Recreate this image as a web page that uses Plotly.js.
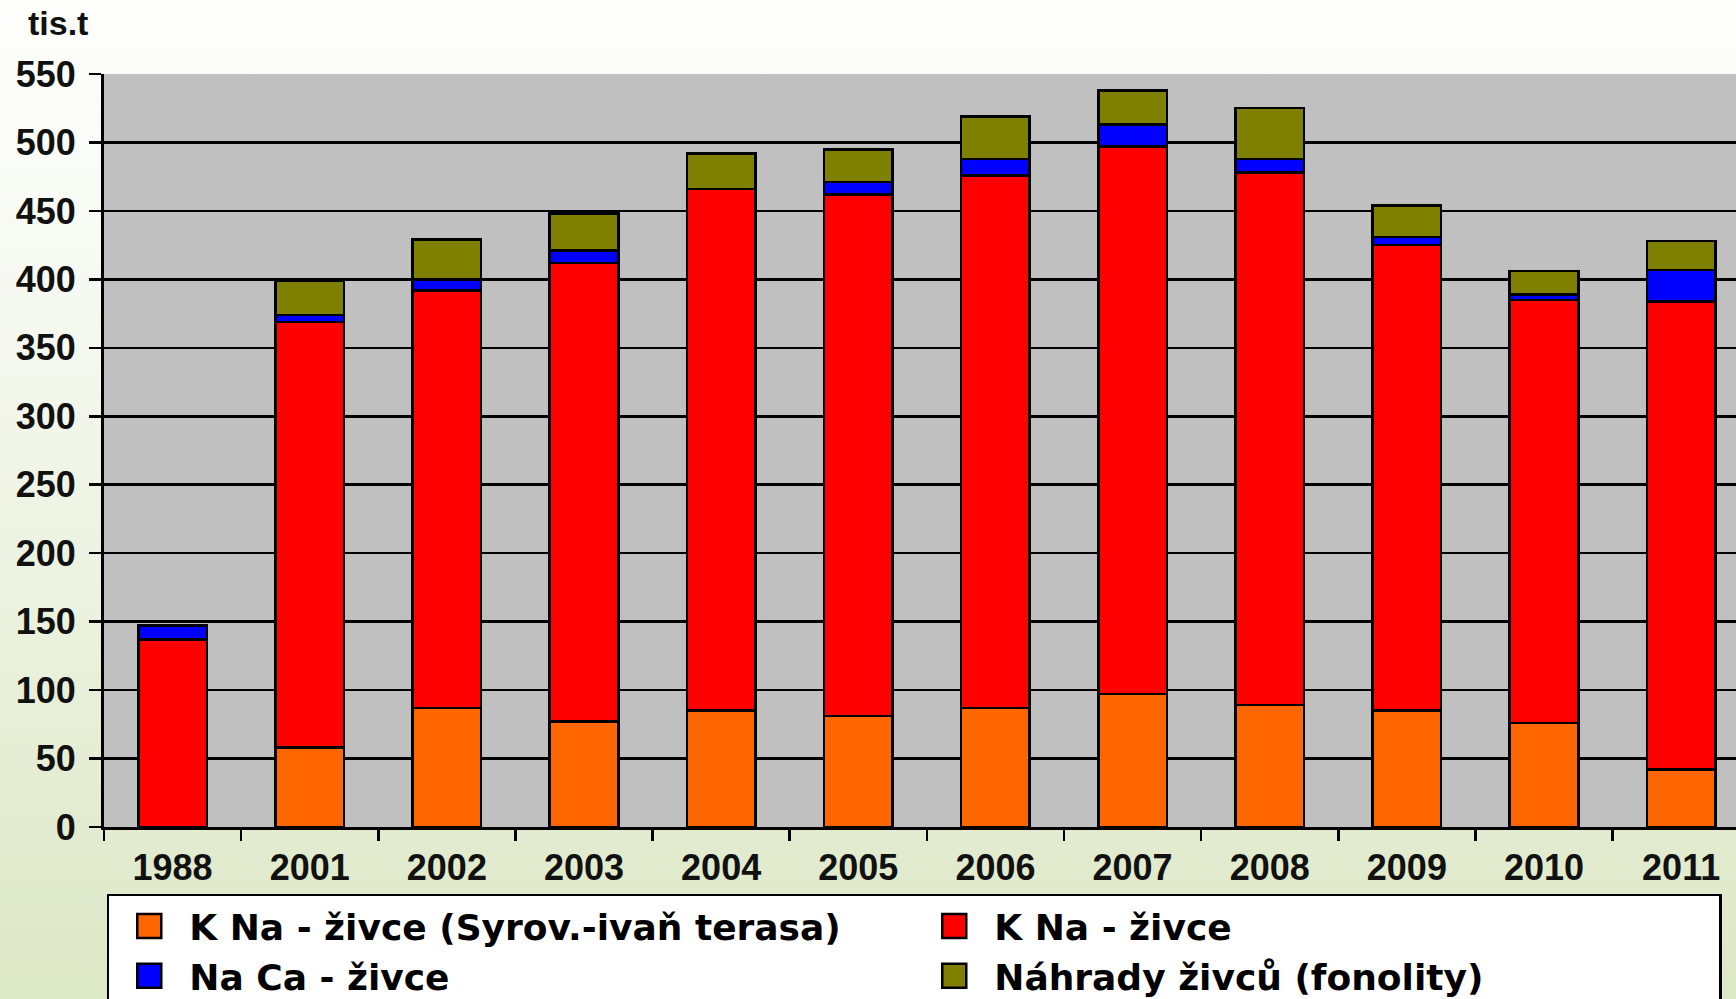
<!DOCTYPE html>
<html>
<head>
<meta charset="utf-8">
<script src="https://cdn.plot.ly/plotly-3.0.1.min.js"></script>
<style>
  html, body { margin: 0; padding: 0; }
  body {
    width: 1736px; height: 999px; overflow: hidden;
    background: linear-gradient(to bottom, #fefefc 0%, #f6f9f1 30%, #ebf2df 60%, #e2ebcf 85%, #dde8c6 100%);
  }
  #chart { width: 1736px; height: 999px; }
</style>
</head>
<body>
<div id="chart"></div>
<script>
// Categories (years)
const years = ['1988', '2001', '2002', '2003', '2004', '2005', '2006', '2007', '2008', '2009', '2010', '2011'];

// Series names
const nameKNaTerasa = 'K Na - živce (Syrov.-ivaň terasa)';
const nameKNa = 'K Na - živce';
const nameNaCa = 'Na Ca - živce';
const nameNahrady = 'Náhrady živců (fonolity)';

// Series values (tis. t)
const kNaTerasa = [0, 58, 87, 77, 85, 81, 87, 97, 89, 85, 76, 42];
const kNa       = [137, 311, 305, 335, 381, 381, 389, 400, 389, 340, 309, 342];
const naCa      = [10, 5, 8, 9, 0, 9, 12, 16, 10, 6, 4, 23];
const nahrady   = [0, 25, 29, 27, 26, 24, 31, 25, 37, 23, 17, 21];

// Y axis ticks
const yTicks = [0, 50, 100, 150, 200, 250, 300, 350, 400, 450, 500, 550];

const FONT = 'Liberation Sans, Arial, Helvetica, sans-serif';
const LEGEND_FONT = 'DejaVu Sans, Liberation Sans, Arial, sans-serif';
const outline = { color: '#000000', width: 2.5 };

function barTrace(name, values, color) {
  return {
    type: 'bar',
    name: name,
    x: years,
    y: values,
    marker: { color: color, line: outline },
    hoverinfo: 'skip'
  };
}

const data = [
  barTrace(nameKNaTerasa, kNaTerasa, '#ff6600'),
  barTrace(nameKNa, kNa, '#ff0000'),
  barTrace(nameNaCa, naCa, '#0000ff'),
  barTrace(nameNahrady, nahrady, '#808000')
];

const layout = {
  width: 1736,
  height: 999,
  margin: { l: 104, r: 0, t: 74, b: 172, pad: 0 },
  paper_bgcolor: 'rgba(0,0,0,0)',
  plot_bgcolor: '#c0c0c0',
  barmode: 'stack',
  bargap: 0.5,
  showlegend: true,
  font: { family: FONT, color: '#000000' },
  xaxis: {
    type: 'category',
    range: [-0.5, 11.4],
    tickson: 'boundaries',
    ticks: 'outside',
    ticklen: 11,
    tickwidth: 2.5,
    tickcolor: '#000000',
    ticklabelstandoff: 7,
    showline: true,
    linecolor: '#000000',
    linewidth: 3,
    showgrid: false,
    tickfont: { family: FONT, size: 36, weight: 700, color: '#111111' },
    fixedrange: true
  },
  yaxis: {
    range: [0, 550],
    tickvals: yTicks,
    ticktext: yTicks.map(String),
    ticks: 'outside',
    ticklen: 12,
    tickwidth: 2.5,
    tickcolor: '#000000',
    ticklabelstandoff: 6,
    showline: true,
    linecolor: '#000000',
    linewidth: 3,
    showgrid: true,
    gridcolor: '#000000',
    gridwidth: 2.5,
    zeroline: false,
    tickfont: { family: FONT, size: 36, weight: 700, color: '#111111' },
    fixedrange: true
  },
  legend: {
    orientation: 'h',
    xref: 'container',
    yref: 'container',
    x: 0.0615,
    xanchor: 'left',
    y: 0.1055,
    yanchor: 'top',
    traceorder: 'normal',
    bgcolor: '#ffffff',
    bordercolor: '#000000',
    borderwidth: 2.5,
    itemwidth: 70,
    entrywidth: 720,
    entrywidthmode: 'pixels',
    font: { family: LEGEND_FONT, size: 36, weight: 700, color: '#000000' },
    itemclick: false,
    itemdoubleclick: false
  },
  annotations: [{
    text: 'tis.t',
    xref: 'paper',
    yref: 'paper',
    x: -0.0478,
    y: 1.0676,
    xanchor: 'left',
    yanchor: 'middle',
    showarrow: false,
    font: { family: FONT, size: 34, weight: 700, color: '#111111' }
  }]
};

Plotly.newPlot('chart', data, layout, { displayModeBar: false, staticPlot: true }).then(function (gd) {
  // enlarge legend colour swatches to match the reference's larger squares
  gd.querySelectorAll('.legendpoints path').forEach(function (p) {
    const t = p.getAttribute('transform') || '';
    p.setAttribute('transform', t + ' scale(2)');
    p.style.vectorEffect = 'non-scaling-stroke';
  });
});
</script>
</body>
</html>
